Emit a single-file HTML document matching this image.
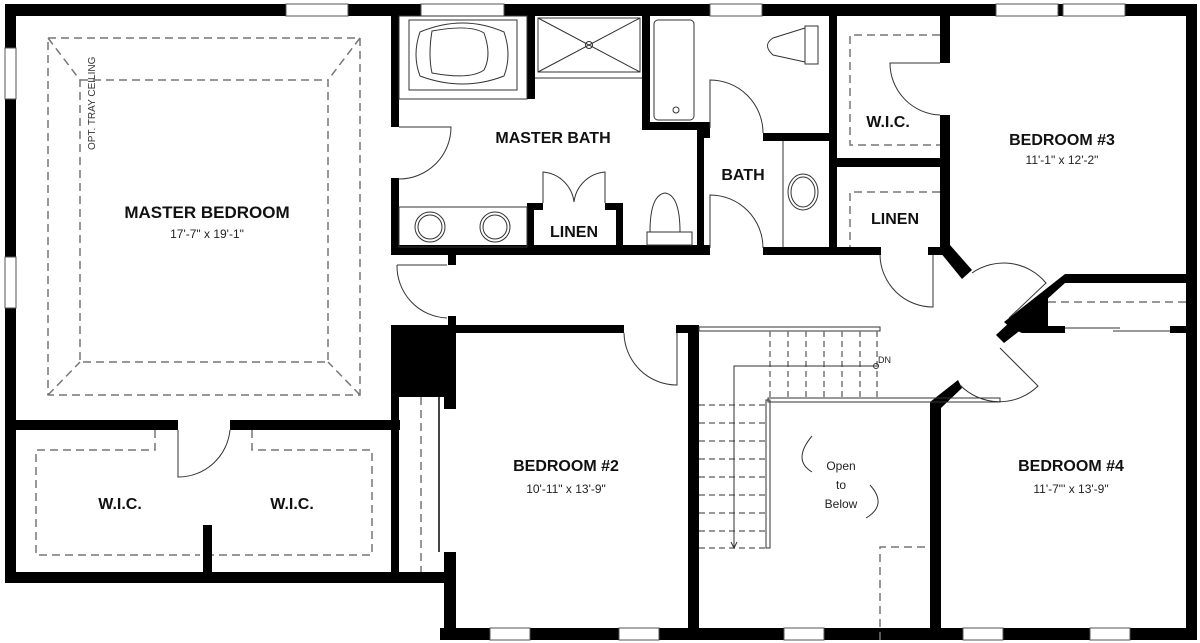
<!DOCTYPE html>
<html><head><meta charset="utf-8"><style>
html,body{margin:0;padding:0;background:#fff;}
svg{display:block;}
.t{font-family:"Liberation Sans",sans-serif;font-weight:bold;fill:#111;text-anchor:middle;}
.d{font-family:"Liberation Sans",sans-serif;fill:#222;text-anchor:middle;font-size:12px;}
.l{fill:none;stroke:#333;stroke-width:1;}
.ds{fill:none;stroke:#777;stroke-width:1.5;stroke-dasharray:8 5;}
.w{fill:#000;}
</style></head><body>
<svg width="1200" height="643" viewBox="0 0 1200 643" xmlns="http://www.w3.org/2000/svg">
<rect width="1200" height="643" fill="#fff"/>
<g class="w">
<rect x="5" y="4" width="1192" height="12"/>
<rect x="5" y="4" width="11" height="579"/>
<rect x="5" y="572" width="451" height="11"/>
<rect x="1186" y="4" width="11" height="636"/>
<rect x="440" y="628" width="757" height="12"/>
<rect x="5" y="420" width="173" height="10"/>
<rect x="230" y="420" width="170" height="10"/>
<rect x="203" y="525" width="9" height="50"/>
<rect x="391" y="4" width="8" height="123"/>
<rect x="391" y="178" width="8" height="77"/>
<rect x="391" y="245" width="319" height="10"/>
<rect x="448" y="255" width="8" height="10"/>
<rect x="448" y="316" width="8" height="17"/>
<rect x="391" y="325" width="65" height="72"/>
<rect x="391" y="397" width="8" height="186"/>
<rect x="444" y="397" width="12" height="12"/>
<rect x="444" y="552" width="12" height="88"/>
<rect x="456" y="325" width="168" height="8"/>
<rect x="676" y="325" width="23" height="8"/>
<rect x="688" y="325" width="11" height="315"/>
<rect x="527" y="16" width="8" height="83"/>
<rect x="527" y="203" width="16" height="7"/>
<rect x="527" y="203" width="7" height="45"/>
<rect x="605" y="203" width="18" height="7"/>
<rect x="616" y="203" width="7" height="45"/>
<rect x="642" y="16" width="8" height="114"/>
<rect x="642" y="122" width="68" height="8"/>
<rect x="697" y="122" width="7" height="133"/>
<rect x="704" y="130" width="6" height="8"/>
<rect x="763" y="133" width="70" height="8"/>
<rect x="763" y="247" width="118" height="8"/>
<rect x="829" y="16" width="8" height="238"/>
<rect x="829" y="158" width="117" height="9"/>
<rect x="940" y="16" width="10" height="47"/>
<rect x="940" y="115" width="10" height="137"/>
<rect x="928" y="247" width="22" height="8"/>
<polygon points="940,252 950,245 972,270 962,279"/>
<rect x="1065" y="274" width="121" height="9"/>
<polygon points="1065,274 1065,283 1013,330 1004,322"/>
<polygon points="1009,327 1048,293 1048,333 1022,333"/>
<rect x="1048" y="326" width="17" height="7"/>
<rect x="1170" y="326" width="16" height="7"/>
<polygon points="1022,329 1012,320 996,335 1004,343"/>
<polygon points="930,640 930,402 958,380 962,388 941,408 941,640"/>
</g>
<g fill="#fff" stroke="#555" stroke-width="1">
<rect x="286" y="4" width="62" height="12"/>
<rect x="421" y="4" width="83" height="12"/>
<rect x="710" y="4" width="52" height="12"/>
<rect x="996" y="4" width="62" height="12"/>
<rect x="1063" y="4" width="62" height="12"/>
<rect x="5" y="48" width="11" height="51"/>
<rect x="5" y="257" width="11" height="51"/>
<rect x="490" y="628" width="40" height="12"/>
<rect x="619" y="628" width="40" height="12"/>
<rect x="784" y="628" width="40" height="12"/>
<rect x="963" y="628" width="40" height="12"/>
<rect x="1090" y="628" width="40" height="12"/>
</g>
<line x1="439" y1="397" x2="439" y2="552" stroke="#444" stroke-width="2"/>
<rect class="ds" x="48" y="38" width="312" height="357"/>
<rect class="ds" x="80" y="80" width="248" height="282"/>
<g class="ds"><line x1="48" y1="38" x2="80" y2="80"/><line x1="360" y1="38" x2="328" y2="80"/><line x1="48" y1="395" x2="80" y2="362"/><line x1="360" y1="395" x2="328" y2="362"/></g>
<text x="0" y="0" transform="translate(95,150) rotate(-90)" style="font-family:'Liberation Sans',sans-serif;font-size:10px;fill:#333">OPT. TRAY CEILING</text>
<path class="ds" d="M155,430 V450 H36 V555 H200"/>
<path class="ds" d="M252,430 V450 H372 V555 H212"/>
<path class="l" d="M178,430 V477 A52,52 0 0 0 230,430"/>
<rect class="l" x="399" y="16" width="128" height="83"/>
<rect class="l" x="409" y="20" width="108" height="70"/>
<path class="l" d="M420,32 Q463,14 504,32 Q512,55 504,76 Q463,92 420,76 Q412,55 420,32Z"/>
<path class="l" d="M432,31 Q470,24 484,33 Q492,55 484,70 Q470,80 432,73 Q428,55 432,31Z"/>
<rect class="l" x="538" y="18" width="102" height="54"/>
<path class="l" d="M538,18 L640,72 M640,18 L538,72"/>
<circle class="l" cx="589" cy="45" r="3.5" fill="#fff"/>
<line class="l" x1="535" y1="78" x2="642" y2="78"/>
<path class="l" d="M399,127 H451 A52,52 0 0 1 399,179"/>
<rect class="l" x="399" y="207" width="128" height="40"/>
<circle class="l" cx="430" cy="227" r="15"/><circle class="l" cx="430" cy="227" r="12"/>
<circle class="l" cx="495" cy="227" r="15"/><circle class="l" cx="495" cy="227" r="12"/>
<path class="l" d="M543,203 V172 A34,34 0 0 1 574,202 A34,34 0 0 1 605,172 V203"/>
<path class="l" d="M650,232 Q650,195 665,193 Q680,195 680,232 Z M647,232 H692 V245 H647 Z"/>
<rect class="l" x="654" y="20" width="40" height="100" rx="4"/>
<circle class="l" cx="676" cy="110" r="3"/>
<path class="l" d="M805,26 H818 V64 H805 Z M805,28 L773,38 Q762,45 773,55 L805,62"/>
<path class="l" d="M710,128 V80 A53,53 0 0 1 763,133"/>
<path class="l" d="M710,248 V195 A53,53 0 0 1 763,248"/>
<line class="l" x1="783" y1="141" x2="783" y2="247"/>
<ellipse class="l" cx="803" cy="192" rx="15" ry="18"/><ellipse class="l" cx="803" cy="192" rx="12" ry="15"/>
<path class="ds" d="M940,35 H850 V145 H940"/>
<path class="ds" d="M940,192 H850 V247"/>
<path class="l" d="M940,63 H890 A52,52 0 0 0 940,115"/>
<path class="l" d="M880,255 A53,53 0 0 0 933,307 V255"/>
<path class="l" d="M972,273 A55,55 0 0 1 1046,283 L1009,318"/>
<path class="l" d="M960,385 A55,55 0 0 0 1038,386 L1000,348"/>
<path class="ds" d="M1048,302 H1186"/>
<path class="l" d="M1065,328 H1120 M1113,331 H1170"/>
<path class="l" d="M624,333 A53,53 0 0 0 677,385 V333"/>
<path class="l" d="M397,265 H447 M397,265 A52,52 0 0 0 447,318"/>
<path class="ds" d="M421,397 V572"/>
<rect class="l" x="699" y="327" width="181" height="4"/>
<rect class="l" x="768" y="398" width="232" height="4"/>
<rect class="l" x="766" y="400" width="4" height="148"/>
<g class="ds" style="stroke-dasharray:6 4">
<line x1="770" y1="331" x2="770" y2="398"/><line x1="788" y1="331" x2="788" y2="398"/><line x1="806" y1="331" x2="806" y2="398"/><line x1="824" y1="331" x2="824" y2="398"/><line x1="842" y1="331" x2="842" y2="398"/><line x1="860" y1="331" x2="860" y2="398"/><line x1="877" y1="331" x2="877" y2="398"/>
<line x1="699" y1="405" x2="766" y2="405"/><line x1="699" y1="423" x2="766" y2="423"/><line x1="699" y1="441" x2="766" y2="441"/><line x1="699" y1="459" x2="766" y2="459"/><line x1="699" y1="477" x2="766" y2="477"/><line x1="699" y1="495" x2="766" y2="495"/><line x1="699" y1="513" x2="766" y2="513"/><line x1="699" y1="531" x2="766" y2="531"/><line x1="699" y1="548" x2="766" y2="548"/>
</g>
<path class="l" d="M876,366 H734 V548 M731,542 L734,548 L737,542"/>
<circle class="l" cx="876" cy="366" r="2.5" fill="#fff"/>
<text x="878" y="363" style="font-family:'Liberation Sans',sans-serif;font-size:9px;fill:#222">DN</text>
<path class="ds" d="M880,640 V547 H930"/>
<path class="l" d="M812,436 Q792,460 812,472"/>
<path class="l" d="M870,485 Q888,505 866,518"/>
<text class="t" x="207" y="218" font-size="17">MASTER BEDROOM</text>
<text class="d" x="207" y="238">17'-7" x 19'-1"</text>
<text class="t" x="553" y="143" font-size="16">MASTER BATH</text>
<text class="t" x="574" y="237" font-size="16">LINEN</text>
<text class="t" x="743" y="180" font-size="16">BATH</text>
<text class="t" x="888" y="127" font-size="16">W.I.C.</text>
<text class="t" x="895" y="224" font-size="16">LINEN</text>
<text class="t" x="1062" y="145" font-size="16">BEDROOM #3</text>
<text class="d" x="1062" y="164">11'-1"  x 12'-2"</text>
<text class="t" x="120" y="509" font-size="16">W.I.C.</text>
<text class="t" x="292" y="509" font-size="16">W.I.C.</text>
<text class="t" x="566" y="471" font-size="16">BEDROOM #2</text>
<text class="d" x="566" y="493">10'-11" x 13'-9"</text>
<text class="t" x="1071" y="471" font-size="16">BEDROOM #4</text>
<text class="d" x="1071" y="493">11'-7"' x 13'-9"</text>
<text class="d" x="841" y="470" font-size="13">Open</text>
<text class="d" x="841" y="489" font-size="13">to</text>
<text class="d" x="841" y="508" font-size="13">Below</text>
</svg>
</body></html>
